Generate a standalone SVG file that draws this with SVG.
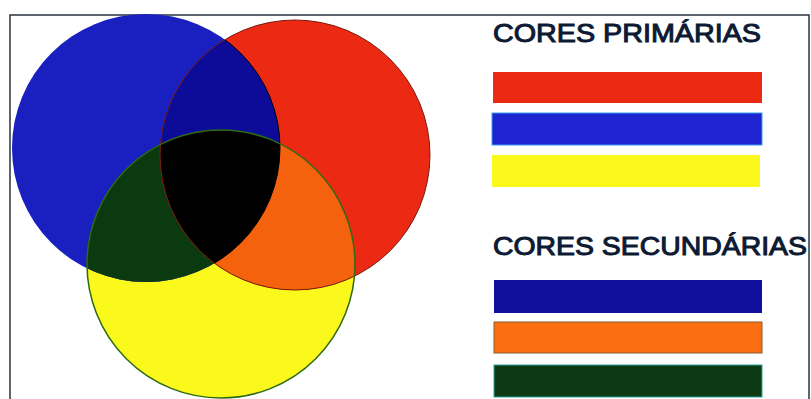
<svg xmlns="http://www.w3.org/2000/svg" width="811" height="399" viewBox="0 0 811 399">
<style>
.t{font-family:"Liberation Sans",Arial,sans-serif;font-size:25px;fill:#0d1a33;stroke:#0d1a33;stroke-width:1}
</style>
<defs>
<clipPath id="cB"><circle cx="146" cy="148" r="134"/></clipPath>
<clipPath id="cR"><circle cx="295" cy="155" r="135"/></clipPath>
<clipPath id="cY"><circle cx="221" cy="264" r="134"/></clipPath>
</defs>
<rect width="811" height="399" fill="#fff"/>
<path d="M10,399 V15 H809 V399" fill="none" stroke="#2a3340" stroke-width="1.5"/>
<g id="circles">
<circle id="yellow" cx="221" cy="264" r="134" fill="#fbf81c"/>
<circle id="red" cx="295" cy="155" r="135" fill="#ec2a14"/>
<circle id="blue" cx="146" cy="148" r="134" fill="#1a1fc0"/>
<g clip-path="url(#cB)"><circle cx="295" cy="155" r="135" fill="#0c0c98"/></g>
<g clip-path="url(#cB)"><circle cx="221" cy="264" r="134" fill="#0b3a10"/></g>
<g clip-path="url(#cR)"><circle cx="221" cy="264" r="134" fill="#f5620e"/></g>
<g clip-path="url(#cR)"><g clip-path="url(#cB)"><circle cx="221" cy="264" r="134" fill="#000"/></g></g>
<circle cx="295" cy="155" r="135" fill="none" stroke="#7a1a10" stroke-width="1"/>
<g clip-path="url(#cR)"><circle cx="146" cy="148" r="134" fill="none" stroke="#000" stroke-width="1"/></g>
<circle cx="221" cy="264" r="134" fill="none" stroke="#2d6a14" stroke-width="1.5"/>
</g>
<g id="legend">
<text class="t" x="493" y="42" textLength="268" lengthAdjust="spacingAndGlyphs">CORES PRIMÁRIAS</text>
<rect x="493" y="72" width="269" height="31" fill="#ec2a14"/>
<rect x="492" y="113" width="270" height="32" fill="#1f24d2" stroke="#3aa0f0" stroke-width="1"/>
<rect x="492" y="155" width="268" height="32" fill="#fbf81c"/>
<text class="t" x="493" y="255" textLength="314" lengthAdjust="spacingAndGlyphs">CORES SECUNDÁRIAS</text>
<rect x="494" y="280" width="268" height="33" fill="#10109c"/>
<rect x="494" y="322" width="268" height="31" fill="#fb6e12" stroke="#8a5a2a" stroke-width="1"/>
<rect x="494" y="365" width="268" height="32" fill="#0d3a12" stroke="#2aa8a0" stroke-width="1"/>
</g>
</svg>
